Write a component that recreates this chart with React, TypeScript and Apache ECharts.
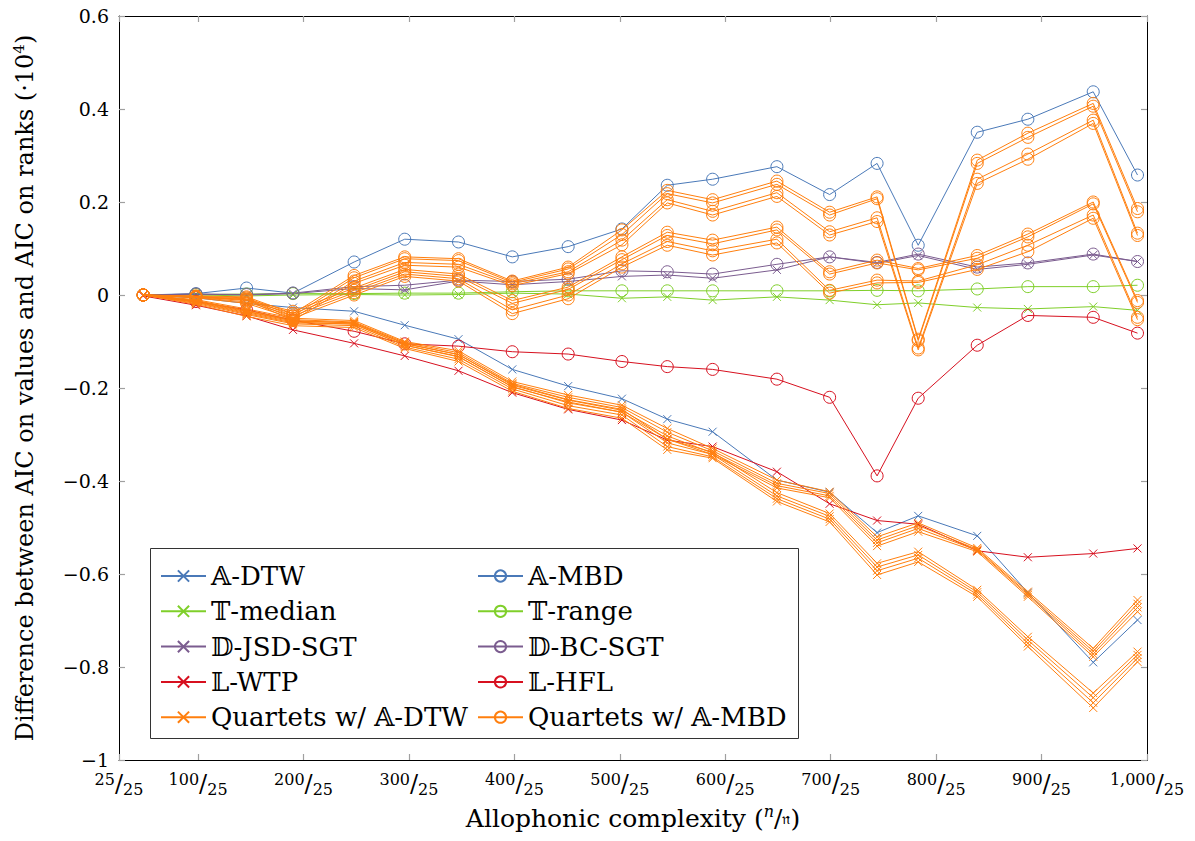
import React, { useEffect, useRef } from 'react';
import * as echarts from 'echarts';

// Allophonic complexity (x positions of the measurements)
const xValues = [48, 98, 146, 190, 248, 296, 347, 398, 451, 502, 545, 588, 649, 699, 744, 783, 839, 887, 949, 991];
const xTickValues = [25, 100, 200, 300, 400, 500, 600, 700, 800, 900, 1000];

const aDtw = [0, -0.006, -0.018, -0.027, -0.035, -0.065, -0.095, -0.16, -0.196, -0.223, -0.267, -0.294, -0.398, -0.424, -0.511, -0.475, -0.518, -0.64, -0.79, -0.699];
const aMbd = [0, 0.003, 0.015, 0.004, 0.071, 0.12, 0.114, 0.082, 0.104, 0.142, 0.236, 0.249, 0.276, 0.216, 0.283, 0.107, 0.35, 0.378, 0.437, 0.258];
const tMedian = [0, 0, -0.002, 0, 0.001, 0, 0.001, 0.004, 0.002, -0.007, -0.004, -0.011, -0.004, -0.011, -0.021, -0.017, -0.027, -0.03, -0.025, -0.033];
const tRange = [0, 0.001, 0.002, 0.003, 0.003, 0.004, 0.004, 0.007, 0.009, 0.009, 0.009, 0.009, 0.009, 0.009, 0.01, 0.009, 0.013, 0.018, 0.018, 0.021];
const dJsdSgt = [0, 0.002, 0.0, 0.003, 0.014, 0.011, 0.03, 0.022, 0.029, 0.04, 0.043, 0.036, 0.054, 0.082, 0.068, 0.085, 0.055, 0.066, 0.086, 0.072];
const dBcSgt = [0, 0.002, 0.001, 0.004, 0.018, 0.021, 0.032, 0.029, 0.034, 0.052, 0.05, 0.045, 0.066, 0.082, 0.07, 0.088, 0.06, 0.069, 0.088, 0.072];
const lWtp = [-0.002, -0.022, -0.045, -0.075, -0.104, -0.131, -0.163, -0.21, -0.246, -0.269, -0.312, -0.326, -0.38, -0.449, -0.485, -0.493, -0.55, -0.564, -0.556, -0.545];
const lHfl = [0, -0.014, -0.032, -0.054, -0.078, -0.105, -0.11, -0.122, -0.127, -0.143, -0.154, -0.16, -0.181, -0.22, -0.389, -0.222, -0.108, -0.044, -0.048, -0.082];

// Quartets w/ A-DTW : eight runs
const quartetsDtwRuns = [
  [0, -0.01, -0.03, -0.05, -0.055, -0.1, -0.12, -0.186, -0.215, -0.237, -0.287, -0.33, -0.398, -0.423, -0.52, -0.49, -0.544, -0.638, -0.76, -0.656],
  [0, -0.012, -0.033, -0.053, -0.058, -0.102, -0.124, -0.19, -0.22, -0.242, -0.295, -0.335, -0.405, -0.427, -0.527, -0.496, -0.547, -0.642, -0.766, -0.664],
  [0, -0.014, -0.036, -0.056, -0.06, -0.105, -0.128, -0.194, -0.226, -0.248, -0.303, -0.34, -0.41, -0.432, -0.533, -0.502, -0.549, -0.645, -0.772, -0.672],
  [0, -0.016, -0.04, -0.06, -0.062, -0.108, -0.132, -0.198, -0.23, -0.252, -0.31, -0.343, -0.415, -0.436, -0.54, -0.509, -0.552, -0.649, -0.778, -0.681],
  [0, -0.012, -0.035, -0.055, -0.06, -0.104, -0.128, -0.192, -0.225, -0.246, -0.31, -0.338, -0.425, -0.47, -0.577, -0.552, -0.634, -0.735, -0.856, -0.767],
  [0, -0.015, -0.038, -0.058, -0.063, -0.108, -0.133, -0.197, -0.232, -0.252, -0.318, -0.343, -0.432, -0.476, -0.585, -0.559, -0.639, -0.742, -0.866, -0.774],
  [0, -0.018, -0.042, -0.062, -0.066, -0.112, -0.138, -0.202, -0.238, -0.258, -0.326, -0.348, -0.438, -0.482, -0.593, -0.566, -0.644, -0.749, -0.877, -0.781],
  [0, -0.02, -0.046, -0.066, -0.07, -0.115, -0.143, -0.207, -0.244, -0.265, -0.333, -0.351, -0.444, -0.488, -0.602, -0.574, -0.649, -0.756, -0.888, -0.789],
];

// Quartets w/ A-MBD : eight runs
const quartetsMbdRuns = [
  [0, -0.002, -0.004, -0.04, 0.042, 0.082, 0.078, 0.03, 0.06, 0.14, 0.225, 0.205, 0.245, 0.178, 0.211, -0.095, 0.29, 0.348, 0.412, 0.186],
  [0, -0.003, -0.006, -0.045, 0.037, 0.078, 0.074, 0.027, 0.056, 0.13, 0.218, 0.198, 0.238, 0.172, 0.207, -0.098, 0.283, 0.339, 0.406, 0.179],
  [0, -0.004, -0.008, -0.05, 0.03, 0.07, 0.066, 0.024, 0.05, 0.118, 0.205, 0.18, 0.22, 0.136, 0.166, -0.114, 0.249, 0.303, 0.376, 0.133],
  [0, -0.005, -0.01, -0.055, 0.025, 0.064, 0.06, 0.02, 0.046, 0.108, 0.198, 0.172, 0.212, 0.129, 0.158, -0.118, 0.24, 0.292, 0.369, 0.128],
  [0, -0.003, -0.01, -0.035, 0.015, 0.055, 0.045, -0.012, 0.017, 0.082, 0.135, 0.118, 0.146, 0.05, 0.075, 0.057, 0.085, 0.131, 0.2, -0.012],
  [0, -0.004, -0.012, -0.04, 0.01, 0.05, 0.04, -0.018, 0.012, 0.076, 0.128, 0.11, 0.14, 0.045, 0.069, 0.054, 0.079, 0.125, 0.196, -0.016],
  [0, -0.005, -0.015, -0.045, 0.005, 0.045, 0.035, -0.032, 0.0, 0.067, 0.115, 0.095, 0.12, 0.01, 0.032, 0.03, 0.065, 0.107, 0.172, -0.048],
  [0, -0.006, -0.018, -0.05, 0.0, 0.04, 0.03, -0.04, -0.008, 0.06, 0.107, 0.086, 0.112, 0.004, 0.026, 0.027, 0.055, 0.093, 0.165, -0.053],
];

const BLUE = '#4a79b8';
const GREEN = '#7fcf2a';
const PURPLE = '#7b5c8f';
const RED = '#d7101f';
const ORANGE = '#ff7f0e';

const CROSS = 'path://M0,0L10,10M10,0L0,10';
const FONT = 'DejaVu Serif';

function pairs(ys: number[]) {
  return ys.map((y, i) => [xValues[i], y]);
}

function makeSeries(name: string, ys: number[], color: string, marker: 'x' | 'o', z: number) {
  const isX = marker === 'x';
  return {
    type: 'line',
    name,
    data: pairs(ys),
    symbol: isX ? CROSS : 'circle',
    symbolSize: isX ? 8 : 12,
    showSymbol: true,
    lineStyle: { color, width: 1 },
    itemStyle: { color: 'rgba(0,0,0,0)', borderColor: color, borderWidth: 1 },
    emphasis: { disabled: true },
    z,
  };
}

export default function App() {
  const ref = useRef<HTMLDivElement>(null);
  useEffect(() => {
    if (!ref.current) return;
    const chart = echarts.init(ref.current, undefined, { renderer: 'svg' });
    const series: any[] = [
      makeSeries('𝔸-DTW', aDtw, BLUE, 'x', 2),
      makeSeries('𝔸-MBD', aMbd, BLUE, 'o', 2),
      makeSeries('𝕋-median', tMedian, GREEN, 'x', 2),
      makeSeries('𝕋-range', tRange, GREEN, 'o', 2),
      makeSeries('𝔻-JSD-SGT', dJsdSgt, PURPLE, 'x', 2),
      makeSeries('𝔻-BC-SGT', dBcSgt, PURPLE, 'o', 2),
      makeSeries('𝕃-WTP', lWtp, RED, 'x', 2),
      makeSeries('𝕃-HFL', lHfl, RED, 'o', 2),
      ...quartetsDtwRuns.map((r) => makeSeries('Quartets w/ 𝔸-DTW', r, ORANGE, 'x', 3)),
      ...quartetsMbdRuns.map((r) => makeSeries('Quartets w/ 𝔸-MBD', r, ORANGE, 'o', 3)),
    ];
    const tickStyle = { show: true, inside: true, length: 6, lineStyle: { color: '#a0a0a0', width: 1.2 } };
    const legendCommon = {
      orient: 'vertical',
      itemWidth: 45,
      itemHeight: 14,
      itemGap: 7.3,
      z: 20,
      textStyle: { fontFamily: FONT, fontSize: 26, color: '#000', lineHeight: 28 },
      selectedMode: false,
    };
    chart.setOption({
      animation: false,
      backgroundColor: '#fff',
      textStyle: { fontFamily: FONT },
      grid: { left: 119, right: 48, top: 16, bottom: 81, containLabel: false },
      legend: [
        { ...legendCommon, left: 155, top: 557, data: ['𝔸-DTW', '𝕋-median', '𝔻-JSD-SGT', '𝕃-WTP', 'Quartets w/ 𝔸-DTW'] },
        { ...legendCommon, left: 472, top: 557, data: ['𝔸-MBD', '𝕋-range', '𝔻-BC-SGT', '𝕃-HFL', 'Quartets w/ 𝔸-MBD'] },
      ],
      graphic: [
        {
          type: 'rect',
          left: 150,
          top: 548,
          shape: { width: 648, height: 190 },
          style: { fill: '#fff', stroke: '#333', lineWidth: 1 },
          z: 5,
        },
      ],
      xAxis: [
        {
          type: 'value',
          min: 25,
          max: 1000,
          position: 'bottom',
          axisLine: { show: true, onZero: false, lineStyle: { color: '#000', width: 1 } },
          axisTick: { ...tickStyle, customValues: xTickValues },
          splitLine: { show: false },
          axisLabel: {
            customValues: xTickValues,
            margin: 11,
            fontFamily: FONT,
            color: '#000',
            formatter: (v: number) => `{n|${v === 1000 ? '1,000' : v}}{s|/}{d|25}`,
            rich: {
              n: { fontFamily: FONT, fontSize: 16, lineHeight: 17, verticalAlign: 'top', color: '#000' },
              s: { fontFamily: FONT, fontSize: 24, lineHeight: 26, color: '#000' },
              d: { fontFamily: FONT, fontSize: 16, lineHeight: 17, verticalAlign: 'bottom', color: '#000' },
            },
          },
          name: '{a|Allophonic complexity (}{n|n}{a|/}{f|𝔫}{a|)}',
          nameLocation: 'middle',
          nameGap: 43,
          nameTextStyle: {
            fontFamily: FONT,
            fontSize: 25,
            color: '#000',
            rich: {
              a: { fontFamily: FONT, fontSize: 25, color: '#000', lineHeight: 30 },
              n: { fontFamily: FONT, fontSize: 16, fontStyle: 'italic', color: '#000', verticalAlign: 'top', lineHeight: 30 },
              f: { fontSize: 16, color: '#000', lineHeight: 30, verticalAlign: 'middle' },
            },
          },
        },
        {
          type: 'value',
          min: 25,
          max: 1000,
          position: 'top',
          axisLine: { show: true, onZero: false, lineStyle: { color: '#000', width: 1 } },
          axisTick: { ...tickStyle, customValues: xTickValues },
          axisLabel: { show: false, customValues: xTickValues },
          splitLine: { show: false },
        },
      ],
      yAxis: [
        {
          type: 'value',
          min: -1,
          max: 0.6,
          interval: 0.2,
          position: 'left',
          axisLine: { show: true, onZero: false, lineStyle: { color: '#000', width: 1 } },
          axisTick: tickStyle,
          splitLine: { show: false },
          axisLabel: {
            margin: 10,
            fontFamily: FONT,
            fontSize: 19,
            color: '#000',
            formatter: (v: number) => {
              const s = Math.abs(v).toFixed(1).replace(/\.0$/, '');
              return (v < -1e-9 ? '−' : '') + s;
            },
          },
          name: '{a|Difference between AIC on values and AIC on ranks (·10}{s|4}{a|)}',
          nameLocation: 'middle',
          nameGap: 80,
          nameTextStyle: {
            fontFamily: FONT,
            fontSize: 24,
            color: '#000',
            rich: {
              a: { fontFamily: FONT, fontSize: 24, color: '#000', lineHeight: 28 },
              s: { fontFamily: FONT, fontSize: 15, color: '#000', lineHeight: 28, verticalAlign: 'top' },
            },
          },
        },
        {
          type: 'value',
          min: -1,
          max: 0.6,
          interval: 0.2,
          position: 'right',
          axisLine: { show: true, onZero: false, lineStyle: { color: '#000', width: 1 } },
          axisTick: tickStyle,
          axisLabel: { show: false },
          splitLine: { show: false },
        },
      ],
      series,
    });
    return () => chart.dispose();
  }, []);
  return <div ref={ref} style={{ width: 1195, height: 841, margin: -8 }} />;
}
